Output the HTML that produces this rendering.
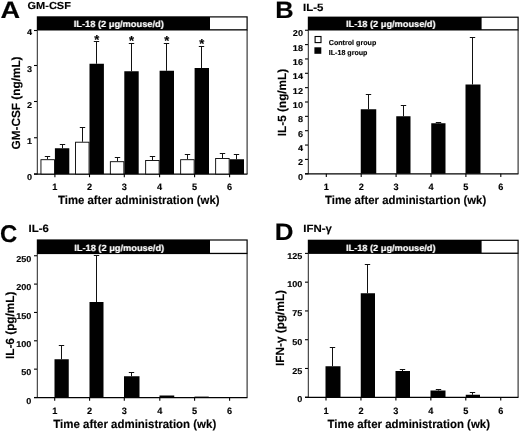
<!DOCTYPE html>
<html lang="en"><head><meta charset="utf-8"><title>Figure</title>
<style>html,body{margin:0;padding:0;background:#fff;}body{width:520px;height:431px;overflow:hidden;}svg{display:block;filter:grayscale(1);text-rendering:geometricPrecision;font-family:"Liberation Sans",Arial,Helvetica,sans-serif;}text{stroke:#000;stroke-width:0.15px;}text.w{stroke:#fff;}</style>
</head><body>
<svg width="520" height="431" viewBox="0 0 520 431">
<rect x="0" y="0" width="520" height="431" fill="#fff"/>
<g opacity="0.999">
<text transform="translate(0.40,18.20) scale(1.14,1)" font-size="23.8" font-weight="bold">A</text>
<text transform="translate(27.50,9.10) scale(1.08,1)" font-size="10.2" font-weight="bold">GM-CSF</text>
<rect x="36.80" y="16.30" width="210.90" height="14.20" fill="#000"/>
<rect x="210.00" y="17.50" width="36.50" height="11.70" fill="#fff"/>
<text x="73.75" y="26.80" font-size="9.0" text-anchor="start" fill="#fff" font-weight="bold" class="w" textLength="90.0" lengthAdjust="spacingAndGlyphs" >IL-18 (2 μg/mouse/d)</text>
<line x1="37.30" y1="30.00" x2="37.30" y2="174.50" stroke="#222" stroke-width="1.0"/>
<line x1="34.00" y1="174.20" x2="247.50" y2="174.20" stroke="#000" stroke-width="1.3"/>
<line x1="247.10" y1="30.00" x2="247.10" y2="174.00" stroke="#111" stroke-width="1.0"/>
<line x1="34.00" y1="174.00" x2="37.00" y2="174.00" stroke="#000" stroke-width="1.1"/>
<text transform="translate(32.00,180.10) scale(1.07,1)" font-size="8.5" text-anchor="end" font-weight="bold">0</text>
<line x1="34.00" y1="137.75" x2="37.00" y2="137.75" stroke="#000" stroke-width="1.1"/>
<text transform="translate(32.00,143.85) scale(1.07,1)" font-size="8.5" text-anchor="end" font-weight="bold">1</text>
<line x1="34.00" y1="101.50" x2="37.00" y2="101.50" stroke="#000" stroke-width="1.1"/>
<text transform="translate(32.00,107.60) scale(1.07,1)" font-size="8.5" text-anchor="end" font-weight="bold">2</text>
<line x1="34.00" y1="65.50" x2="37.00" y2="65.50" stroke="#000" stroke-width="1.1"/>
<text transform="translate(32.00,71.60) scale(1.07,1)" font-size="8.5" text-anchor="end" font-weight="bold">3</text>
<line x1="34.00" y1="30.50" x2="37.00" y2="30.50" stroke="#000" stroke-width="1.1"/>
<text transform="translate(32.00,35.40) scale(1.07,1)" font-size="8.5" text-anchor="end" font-weight="bold">4</text>
<text transform="translate(20.00,103.00) rotate(-90)" font-size="11.8" text-anchor="middle" font-weight="bold">GM-CSF (ng/mL)</text>
<line x1="54.90" y1="174.00" x2="54.90" y2="177.20" stroke="#000" stroke-width="1.1"/>
<text x="54.90" y="190.30" font-size="9.2" text-anchor="middle" fill="#000" font-weight="bold" >1</text>
<line x1="89.50" y1="174.00" x2="89.50" y2="177.20" stroke="#000" stroke-width="1.1"/>
<text x="89.50" y="190.30" font-size="9.2" text-anchor="middle" fill="#000" font-weight="bold" >2</text>
<line x1="124.30" y1="174.00" x2="124.30" y2="177.20" stroke="#000" stroke-width="1.1"/>
<text x="124.30" y="190.30" font-size="9.2" text-anchor="middle" fill="#000" font-weight="bold" >3</text>
<line x1="159.60" y1="174.00" x2="159.60" y2="177.20" stroke="#000" stroke-width="1.1"/>
<text x="159.60" y="190.30" font-size="9.2" text-anchor="middle" fill="#000" font-weight="bold" >4</text>
<line x1="194.60" y1="174.00" x2="194.60" y2="177.20" stroke="#000" stroke-width="1.1"/>
<text x="194.60" y="190.30" font-size="9.2" text-anchor="middle" fill="#000" font-weight="bold" >5</text>
<line x1="229.60" y1="174.00" x2="229.60" y2="177.20" stroke="#000" stroke-width="1.1"/>
<text x="229.60" y="190.30" font-size="9.2" text-anchor="middle" fill="#000" font-weight="bold" >6</text>
<text transform="translate(58.00,204.05) scale(1,1.05)" font-size="11.3" font-weight="bold" textLength="161.5" lengthAdjust="spacingAndGlyphs" stroke="#000" stroke-width="0.2">Time after administration (wk)</text>
<line x1="47.50" y1="156.50" x2="47.50" y2="159.25" stroke="#111" stroke-width="1.0"/>
<line x1="44.80" y1="156.50" x2="50.20" y2="156.50" stroke="#111" stroke-width="1.0"/>
<rect x="40.95" y="159.70" width="13.50" height="14.30" fill="#fff" stroke="#000" stroke-width="0.9"/>
<line x1="62.50" y1="144.50" x2="62.50" y2="148.25" stroke="#111" stroke-width="1.0"/>
<line x1="59.80" y1="144.50" x2="65.20" y2="144.50" stroke="#111" stroke-width="1.0"/>
<rect x="54.90" y="148.25" width="14.40" height="25.75" fill="#000"/>
<line x1="82.50" y1="127.50" x2="82.50" y2="141.75" stroke="#111" stroke-width="1.0"/>
<line x1="79.80" y1="127.50" x2="85.20" y2="127.50" stroke="#111" stroke-width="1.0"/>
<rect x="75.55" y="142.20" width="13.50" height="31.80" fill="#fff" stroke="#000" stroke-width="0.9"/>
<line x1="96.50" y1="41.50" x2="96.50" y2="63.75" stroke="#111" stroke-width="1.0"/>
<line x1="93.80" y1="41.50" x2="99.20" y2="41.50" stroke="#111" stroke-width="1.0"/>
<rect x="89.50" y="63.75" width="14.40" height="110.25" fill="#000"/>
<text x="96.70" y="43.90" font-size="13" text-anchor="middle" fill="#000" font-weight="bold" >*</text>
<line x1="117.50" y1="157.50" x2="117.50" y2="161.25" stroke="#111" stroke-width="1.0"/>
<line x1="114.80" y1="157.50" x2="120.20" y2="157.50" stroke="#111" stroke-width="1.0"/>
<rect x="110.35" y="161.70" width="13.50" height="12.30" fill="#fff" stroke="#000" stroke-width="0.9"/>
<line x1="131.50" y1="43.50" x2="131.50" y2="71.25" stroke="#111" stroke-width="1.0"/>
<line x1="128.80" y1="43.50" x2="134.20" y2="43.50" stroke="#111" stroke-width="1.0"/>
<rect x="124.30" y="71.25" width="14.40" height="102.75" fill="#000"/>
<text x="131.50" y="45.40" font-size="13" text-anchor="middle" fill="#000" font-weight="bold" >*</text>
<line x1="152.50" y1="156.50" x2="152.50" y2="160.00" stroke="#111" stroke-width="1.0"/>
<line x1="149.80" y1="156.50" x2="155.20" y2="156.50" stroke="#111" stroke-width="1.0"/>
<rect x="145.65" y="160.45" width="13.50" height="13.55" fill="#fff" stroke="#000" stroke-width="0.9"/>
<line x1="166.50" y1="43.50" x2="166.50" y2="70.75" stroke="#111" stroke-width="1.0"/>
<line x1="163.80" y1="43.50" x2="169.20" y2="43.50" stroke="#111" stroke-width="1.0"/>
<rect x="159.60" y="70.75" width="14.40" height="103.25" fill="#000"/>
<text x="166.80" y="45.40" font-size="13" text-anchor="middle" fill="#000" font-weight="bold" >*</text>
<line x1="187.50" y1="154.50" x2="187.50" y2="159.25" stroke="#111" stroke-width="1.0"/>
<line x1="184.80" y1="154.50" x2="190.20" y2="154.50" stroke="#111" stroke-width="1.0"/>
<rect x="180.65" y="159.70" width="13.50" height="14.30" fill="#fff" stroke="#000" stroke-width="0.9"/>
<line x1="201.50" y1="46.50" x2="201.50" y2="68.00" stroke="#111" stroke-width="1.0"/>
<line x1="198.80" y1="46.50" x2="204.20" y2="46.50" stroke="#111" stroke-width="1.0"/>
<rect x="194.60" y="68.00" width="14.40" height="106.00" fill="#000"/>
<text x="201.80" y="47.90" font-size="13" text-anchor="middle" fill="#000" font-weight="bold" >*</text>
<line x1="222.50" y1="153.50" x2="222.50" y2="158.00" stroke="#111" stroke-width="1.0"/>
<line x1="219.80" y1="153.50" x2="225.20" y2="153.50" stroke="#111" stroke-width="1.0"/>
<rect x="215.65" y="158.45" width="13.50" height="15.55" fill="#fff" stroke="#000" stroke-width="0.9"/>
<line x1="236.50" y1="154.50" x2="236.50" y2="159.25" stroke="#111" stroke-width="1.0"/>
<line x1="233.80" y1="154.50" x2="239.20" y2="154.50" stroke="#111" stroke-width="1.0"/>
<rect x="229.60" y="159.25" width="14.40" height="14.75" fill="#000"/>
<text transform="translate(275.30,18.30) scale(1.07,1)" font-size="23.8" font-weight="bold">B</text>
<text transform="translate(303.00,10.60) scale(1.08,1)" font-size="10.6" font-weight="bold">IL-5</text>
<rect x="307.80" y="16.60" width="210.90" height="13.90" fill="#000"/>
<rect x="481.60" y="17.80" width="35.90" height="11.40" fill="#fff"/>
<text x="346.00" y="26.80" font-size="9.0" text-anchor="start" fill="#fff" font-weight="bold" class="w" textLength="89.5" lengthAdjust="spacingAndGlyphs" >IL-18 (2 μg/mouse/d)</text>
<line x1="308.30" y1="30.00" x2="308.30" y2="174.25" stroke="#222" stroke-width="1.0"/>
<line x1="305.00" y1="173.95" x2="518.50" y2="173.95" stroke="#000" stroke-width="1.3"/>
<line x1="518.10" y1="30.00" x2="518.10" y2="173.75" stroke="#111" stroke-width="1.0"/>
<line x1="305.00" y1="173.75" x2="308.00" y2="173.75" stroke="#000" stroke-width="1.1"/>
<text transform="translate(303.00,179.65) scale(1.07,1)" font-size="8.5" text-anchor="end" font-weight="bold">0</text>
<line x1="305.00" y1="159.40" x2="308.00" y2="159.40" stroke="#000" stroke-width="1.1"/>
<text transform="translate(303.00,165.30) scale(1.07,1)" font-size="8.5" text-anchor="end" font-weight="bold">2</text>
<line x1="305.00" y1="145.05" x2="308.00" y2="145.05" stroke="#000" stroke-width="1.1"/>
<text transform="translate(303.00,150.95) scale(1.07,1)" font-size="8.5" text-anchor="end" font-weight="bold">4</text>
<line x1="305.00" y1="130.70" x2="308.00" y2="130.70" stroke="#000" stroke-width="1.1"/>
<text transform="translate(303.00,136.60) scale(1.07,1)" font-size="8.5" text-anchor="end" font-weight="bold">6</text>
<line x1="305.00" y1="116.35" x2="308.00" y2="116.35" stroke="#000" stroke-width="1.1"/>
<text transform="translate(303.00,122.25) scale(1.07,1)" font-size="8.5" text-anchor="end" font-weight="bold">8</text>
<line x1="305.00" y1="102.00" x2="308.00" y2="102.00" stroke="#000" stroke-width="1.1"/>
<text transform="translate(303.00,107.90) scale(1.07,1)" font-size="8.5" text-anchor="end" font-weight="bold">10</text>
<line x1="305.00" y1="87.65" x2="308.00" y2="87.65" stroke="#000" stroke-width="1.1"/>
<text transform="translate(303.00,93.55) scale(1.07,1)" font-size="8.5" text-anchor="end" font-weight="bold">12</text>
<line x1="305.00" y1="73.30" x2="308.00" y2="73.30" stroke="#000" stroke-width="1.1"/>
<text transform="translate(303.00,79.20) scale(1.07,1)" font-size="8.5" text-anchor="end" font-weight="bold">14</text>
<line x1="305.00" y1="58.95" x2="308.00" y2="58.95" stroke="#000" stroke-width="1.1"/>
<text transform="translate(303.00,64.85) scale(1.07,1)" font-size="8.5" text-anchor="end" font-weight="bold">16</text>
<line x1="305.00" y1="44.60" x2="308.00" y2="44.60" stroke="#000" stroke-width="1.1"/>
<text transform="translate(303.00,50.50) scale(1.07,1)" font-size="8.5" text-anchor="end" font-weight="bold">18</text>
<line x1="305.00" y1="30.25" x2="308.00" y2="30.25" stroke="#000" stroke-width="1.1"/>
<text transform="translate(303.00,36.15) scale(1.07,1)" font-size="8.5" text-anchor="end" font-weight="bold">20</text>
<text transform="translate(285.60,102.50) rotate(-90)" font-size="11.8" text-anchor="middle" font-weight="bold">IL-5 (ng/mL)</text>
<line x1="326.30" y1="173.75" x2="326.30" y2="176.95" stroke="#000" stroke-width="1.1"/>
<text x="326.30" y="190.30" font-size="9.2" text-anchor="middle" fill="#000" font-weight="bold" >1</text>
<line x1="361.20" y1="173.75" x2="361.20" y2="176.95" stroke="#000" stroke-width="1.1"/>
<text x="361.20" y="190.30" font-size="9.2" text-anchor="middle" fill="#000" font-weight="bold" >2</text>
<line x1="396.10" y1="173.75" x2="396.10" y2="176.95" stroke="#000" stroke-width="1.1"/>
<text x="396.10" y="190.30" font-size="9.2" text-anchor="middle" fill="#000" font-weight="bold" >3</text>
<line x1="431.00" y1="173.75" x2="431.00" y2="176.95" stroke="#000" stroke-width="1.1"/>
<text x="431.00" y="190.30" font-size="9.2" text-anchor="middle" fill="#000" font-weight="bold" >4</text>
<line x1="465.90" y1="173.75" x2="465.90" y2="176.95" stroke="#000" stroke-width="1.1"/>
<text x="465.90" y="190.30" font-size="9.2" text-anchor="middle" fill="#000" font-weight="bold" >5</text>
<line x1="500.80" y1="173.75" x2="500.80" y2="176.95" stroke="#000" stroke-width="1.1"/>
<text x="500.80" y="190.30" font-size="9.2" text-anchor="middle" fill="#000" font-weight="bold" >6</text>
<text transform="translate(325.00,204.05) scale(1,1.05)" font-size="11.3" font-weight="bold" textLength="161.2" lengthAdjust="spacingAndGlyphs" stroke="#000" stroke-width="0.2">Time after administartion (wk)</text>
<line x1="368.50" y1="94.50" x2="368.50" y2="109.25" stroke="#111" stroke-width="1.0"/>
<line x1="365.80" y1="94.50" x2="371.20" y2="94.50" stroke="#111" stroke-width="1.0"/>
<rect x="360.75" y="109.25" width="15.50" height="64.50" fill="#000"/>
<line x1="403.50" y1="105.50" x2="403.50" y2="116.25" stroke="#111" stroke-width="1.0"/>
<line x1="400.80" y1="105.50" x2="406.20" y2="105.50" stroke="#111" stroke-width="1.0"/>
<rect x="396.25" y="116.25" width="14.25" height="57.50" fill="#000"/>
<line x1="438.50" y1="122.50" x2="438.50" y2="123.25" stroke="#111" stroke-width="1.0"/>
<line x1="435.80" y1="122.50" x2="441.20" y2="122.50" stroke="#111" stroke-width="1.0"/>
<rect x="431.25" y="123.25" width="14.25" height="50.50" fill="#000"/>
<line x1="472.50" y1="37.50" x2="472.50" y2="84.50" stroke="#111" stroke-width="1.0"/>
<line x1="469.80" y1="37.50" x2="475.20" y2="37.50" stroke="#111" stroke-width="1.0"/>
<rect x="465.50" y="84.50" width="15.00" height="89.25" fill="#000"/>
<rect x="315.10" y="36.50" width="5.90" height="6.10" fill="#fff" stroke="#000" stroke-width="1.1"/>
<rect x="314.40" y="47.30" width="6.90" height="6.50" fill="#000"/>
<text x="328.75" y="45.00" font-size="7.2" text-anchor="start" fill="#000" font-weight="bold" textLength="47.5" lengthAdjust="spacingAndGlyphs" >Control group</text>
<text x="328.75" y="55.40" font-size="7.2" text-anchor="start" fill="#000" font-weight="bold" textLength="38.7" lengthAdjust="spacingAndGlyphs" >IL-18 group</text>
<text transform="translate(0.00,242.20) scale(0.99,1)" font-size="24.2" font-weight="bold">C</text>
<text transform="translate(28.50,232.30) scale(1.08,1)" font-size="10.6" font-weight="bold">IL-6</text>
<rect x="36.80" y="239.40" width="210.90" height="14.70" fill="#000"/>
<rect x="210.00" y="240.60" width="36.50" height="12.20" fill="#fff"/>
<text x="74.20" y="250.80" font-size="9.0" text-anchor="start" fill="#fff" font-weight="bold" class="w" textLength="90.0" lengthAdjust="spacingAndGlyphs" >IL-18 (2 μg/mouse/d)</text>
<line x1="37.30" y1="253.60" x2="37.30" y2="398.00" stroke="#222" stroke-width="1.0"/>
<line x1="34.00" y1="397.70" x2="247.50" y2="397.70" stroke="#000" stroke-width="1.3"/>
<line x1="247.10" y1="253.60" x2="247.10" y2="397.50" stroke="#111" stroke-width="1.0"/>
<line x1="34.00" y1="397.50" x2="37.00" y2="397.50" stroke="#000" stroke-width="1.1"/>
<text transform="translate(31.40,403.60) scale(1.07,1)" font-size="8.5" text-anchor="end" font-weight="bold">0</text>
<line x1="34.00" y1="369.15" x2="37.00" y2="369.15" stroke="#000" stroke-width="1.1"/>
<text transform="translate(31.40,375.25) scale(1.07,1)" font-size="8.5" text-anchor="end" font-weight="bold">50</text>
<line x1="34.00" y1="340.80" x2="37.00" y2="340.80" stroke="#000" stroke-width="1.1"/>
<text transform="translate(31.40,346.90) scale(1.07,1)" font-size="8.5" text-anchor="end" font-weight="bold">100</text>
<line x1="34.00" y1="312.45" x2="37.00" y2="312.45" stroke="#000" stroke-width="1.1"/>
<text transform="translate(31.40,318.55) scale(1.07,1)" font-size="8.5" text-anchor="end" font-weight="bold">150</text>
<line x1="34.00" y1="284.10" x2="37.00" y2="284.10" stroke="#000" stroke-width="1.1"/>
<text transform="translate(31.40,290.20) scale(1.07,1)" font-size="8.5" text-anchor="end" font-weight="bold">200</text>
<line x1="34.00" y1="255.75" x2="37.00" y2="255.75" stroke="#000" stroke-width="1.1"/>
<text transform="translate(31.40,261.85) scale(1.07,1)" font-size="8.5" text-anchor="end" font-weight="bold">250</text>
<text transform="translate(13.60,325.30) rotate(-90)" font-size="11.8" text-anchor="middle" font-weight="bold">IL-6 (pg/mL)</text>
<line x1="54.70" y1="397.50" x2="54.70" y2="400.70" stroke="#000" stroke-width="1.1"/>
<text x="54.70" y="413.80" font-size="9.2" text-anchor="middle" fill="#000" font-weight="bold" >1</text>
<line x1="89.60" y1="397.50" x2="89.60" y2="400.70" stroke="#000" stroke-width="1.1"/>
<text x="89.60" y="413.80" font-size="9.2" text-anchor="middle" fill="#000" font-weight="bold" >2</text>
<line x1="124.30" y1="397.50" x2="124.30" y2="400.70" stroke="#000" stroke-width="1.1"/>
<text x="124.30" y="413.80" font-size="9.2" text-anchor="middle" fill="#000" font-weight="bold" >3</text>
<line x1="159.80" y1="397.50" x2="159.80" y2="400.70" stroke="#000" stroke-width="1.1"/>
<text x="159.80" y="413.80" font-size="9.2" text-anchor="middle" fill="#000" font-weight="bold" >4</text>
<line x1="194.60" y1="397.50" x2="194.60" y2="400.70" stroke="#000" stroke-width="1.1"/>
<text x="194.60" y="413.80" font-size="9.2" text-anchor="middle" fill="#000" font-weight="bold" >5</text>
<line x1="229.60" y1="397.50" x2="229.60" y2="400.70" stroke="#000" stroke-width="1.1"/>
<text x="229.60" y="413.80" font-size="9.2" text-anchor="middle" fill="#000" font-weight="bold" >6</text>
<text transform="translate(53.25,427.90) scale(1,1.05)" font-size="11.3" font-weight="bold" textLength="163.0" lengthAdjust="spacingAndGlyphs" stroke="#000" stroke-width="0.2">Time after administration (wk)</text>
<line x1="61.50" y1="345.50" x2="61.50" y2="359.25" stroke="#111" stroke-width="1.0"/>
<line x1="58.80" y1="345.50" x2="64.20" y2="345.50" stroke="#111" stroke-width="1.0"/>
<rect x="54.50" y="359.25" width="14.25" height="38.25" fill="#000"/>
<line x1="96.50" y1="255.50" x2="96.50" y2="302.00" stroke="#111" stroke-width="1.0"/>
<line x1="93.80" y1="255.50" x2="99.20" y2="255.50" stroke="#111" stroke-width="1.0"/>
<rect x="89.50" y="302.00" width="14.00" height="95.50" fill="#000"/>
<line x1="131.50" y1="372.50" x2="131.50" y2="376.25" stroke="#111" stroke-width="1.0"/>
<line x1="128.80" y1="372.50" x2="134.20" y2="372.50" stroke="#111" stroke-width="1.0"/>
<rect x="124.00" y="376.25" width="15.50" height="21.25" fill="#000"/>
<rect x="159.50" y="395.50" width="14.75" height="2.00" fill="#000"/>
<rect x="194.50" y="396.60" width="14.25" height="0.90" fill="#000"/>
<text transform="translate(274.70,240.30) scale(1.08,1)" font-size="24.0" font-weight="bold">D</text>
<text transform="translate(303.30,231.80) scale(1.08,1)" font-size="10.6" font-weight="bold">IFN-γ</text>
<rect x="307.80" y="239.70" width="210.90" height="14.20" fill="#000"/>
<rect x="481.60" y="240.90" width="35.90" height="11.70" fill="#fff"/>
<text x="346.00" y="250.70" font-size="9.0" text-anchor="start" fill="#fff" font-weight="bold" class="w" textLength="89.5" lengthAdjust="spacingAndGlyphs" >IL-18 (2 μg/mouse/d)</text>
<line x1="308.30" y1="253.40" x2="308.30" y2="397.75" stroke="#222" stroke-width="1.0"/>
<line x1="305.00" y1="397.45" x2="518.50" y2="397.45" stroke="#000" stroke-width="1.3"/>
<line x1="518.10" y1="253.40" x2="518.10" y2="397.25" stroke="#111" stroke-width="1.0"/>
<line x1="305.00" y1="397.25" x2="308.00" y2="397.25" stroke="#000" stroke-width="1.1"/>
<text transform="translate(302.40,402.45) scale(1.07,1)" font-size="8.5" text-anchor="end" font-weight="bold">0</text>
<line x1="305.00" y1="368.48" x2="308.00" y2="368.48" stroke="#000" stroke-width="1.1"/>
<text transform="translate(302.40,373.68) scale(1.07,1)" font-size="8.5" text-anchor="end" font-weight="bold">25</text>
<line x1="305.00" y1="339.71" x2="308.00" y2="339.71" stroke="#000" stroke-width="1.1"/>
<text transform="translate(302.40,344.91) scale(1.07,1)" font-size="8.5" text-anchor="end" font-weight="bold">50</text>
<line x1="305.00" y1="310.94" x2="308.00" y2="310.94" stroke="#000" stroke-width="1.1"/>
<text transform="translate(302.40,316.14) scale(1.07,1)" font-size="8.5" text-anchor="end" font-weight="bold">75</text>
<line x1="305.00" y1="282.17" x2="308.00" y2="282.17" stroke="#000" stroke-width="1.1"/>
<text transform="translate(302.40,287.37) scale(1.07,1)" font-size="8.5" text-anchor="end" font-weight="bold">100</text>
<line x1="305.00" y1="253.40" x2="308.00" y2="253.40" stroke="#000" stroke-width="1.1"/>
<text transform="translate(302.40,258.60) scale(1.07,1)" font-size="8.5" text-anchor="end" font-weight="bold">125</text>
<text transform="translate(284.00,328.00) rotate(-90)" font-size="11.8" text-anchor="middle" font-weight="bold">IFN-γ (pg/mL)</text>
<line x1="326.00" y1="397.25" x2="326.00" y2="400.45" stroke="#000" stroke-width="1.1"/>
<text x="326.00" y="413.80" font-size="9.2" text-anchor="middle" fill="#000" font-weight="bold" >1</text>
<line x1="360.95" y1="397.25" x2="360.95" y2="400.45" stroke="#000" stroke-width="1.1"/>
<text x="360.95" y="413.80" font-size="9.2" text-anchor="middle" fill="#000" font-weight="bold" >2</text>
<line x1="395.90" y1="397.25" x2="395.90" y2="400.45" stroke="#000" stroke-width="1.1"/>
<text x="395.90" y="413.80" font-size="9.2" text-anchor="middle" fill="#000" font-weight="bold" >3</text>
<line x1="430.85" y1="397.25" x2="430.85" y2="400.45" stroke="#000" stroke-width="1.1"/>
<text x="430.85" y="413.80" font-size="9.2" text-anchor="middle" fill="#000" font-weight="bold" >4</text>
<line x1="465.80" y1="397.25" x2="465.80" y2="400.45" stroke="#000" stroke-width="1.1"/>
<text x="465.80" y="413.80" font-size="9.2" text-anchor="middle" fill="#000" font-weight="bold" >5</text>
<line x1="500.75" y1="397.25" x2="500.75" y2="400.45" stroke="#000" stroke-width="1.1"/>
<text x="500.75" y="413.80" font-size="9.2" text-anchor="middle" fill="#000" font-weight="bold" >6</text>
<text transform="translate(327.50,427.80) scale(1,1.05)" font-size="11.3" font-weight="bold" textLength="162.5" lengthAdjust="spacingAndGlyphs" stroke="#000" stroke-width="0.2">Time after administration (wk)</text>
<line x1="332.50" y1="347.50" x2="332.50" y2="366.25" stroke="#111" stroke-width="1.0"/>
<line x1="329.80" y1="347.50" x2="335.20" y2="347.50" stroke="#111" stroke-width="1.0"/>
<rect x="325.50" y="366.25" width="15.00" height="31.00" fill="#000"/>
<line x1="367.50" y1="264.50" x2="367.50" y2="293.25" stroke="#111" stroke-width="1.0"/>
<line x1="364.80" y1="264.50" x2="370.20" y2="264.50" stroke="#111" stroke-width="1.0"/>
<rect x="360.75" y="293.25" width="14.25" height="104.00" fill="#000"/>
<line x1="402.50" y1="369.50" x2="402.50" y2="371.00" stroke="#111" stroke-width="1.0"/>
<line x1="399.80" y1="369.50" x2="405.20" y2="369.50" stroke="#111" stroke-width="1.0"/>
<rect x="395.50" y="371.00" width="14.50" height="26.25" fill="#000"/>
<line x1="438.50" y1="389.50" x2="438.50" y2="390.50" stroke="#111" stroke-width="1.0"/>
<line x1="435.80" y1="389.50" x2="441.20" y2="389.50" stroke="#111" stroke-width="1.0"/>
<rect x="430.50" y="390.50" width="15.00" height="6.75" fill="#000"/>
<line x1="472.50" y1="392.50" x2="472.50" y2="394.75" stroke="#111" stroke-width="1.0"/>
<line x1="469.80" y1="392.50" x2="475.20" y2="392.50" stroke="#111" stroke-width="1.0"/>
<rect x="465.75" y="394.75" width="14.25" height="2.50" fill="#000"/>
</g>
</svg></body></html>
